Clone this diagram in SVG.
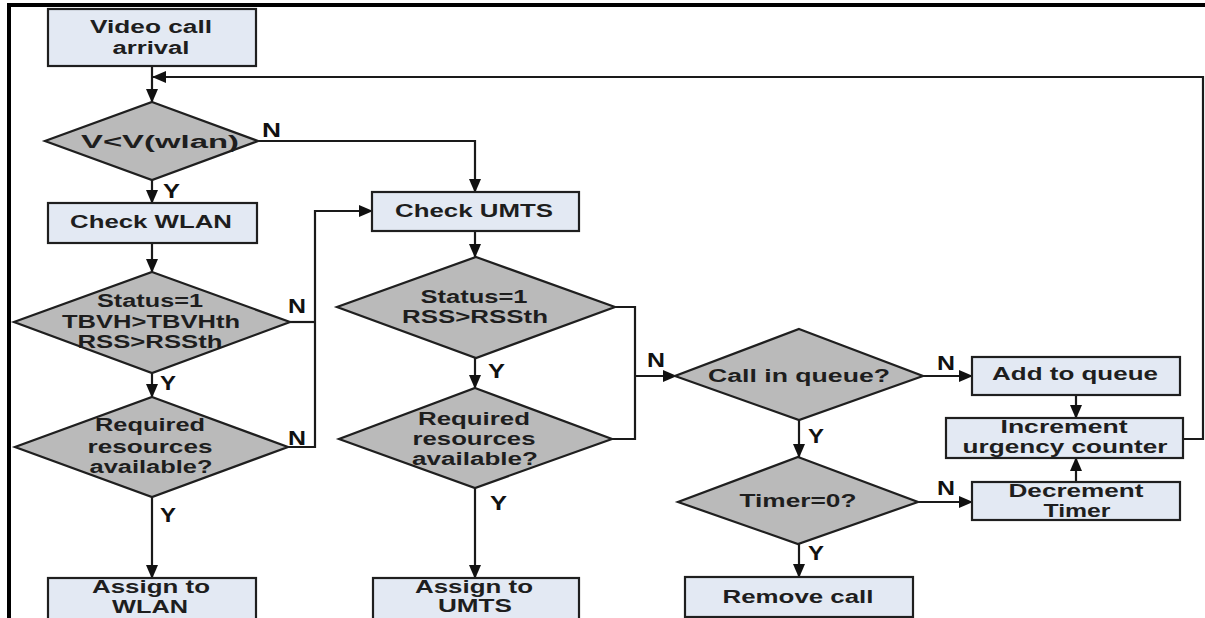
<svg xmlns="http://www.w3.org/2000/svg" width="1205" height="618" viewBox="0 0 1205 618">
<style>
.box{fill:#e3e9f3;stroke:#1f1f1f;stroke-width:2.2}
.dia{fill:#bababa;stroke:#1f1f1f;stroke-width:2.2}
.t{font-family:"Liberation Sans",Arial,sans-serif;font-weight:bold;font-size:18px;fill:#1e1e1e;text-anchor:middle}
.lb{font-family:"Liberation Sans",Arial,sans-serif;font-weight:bold;font-size:20px;fill:#111}
.c{fill:none;stroke:#1a1a1a;stroke-width:2.2}
.ca{fill:none;stroke:#1a1a1a;stroke-width:2.2;marker-end:url(#ah)}
</style>
<defs>
<marker id="ah" markerUnits="userSpaceOnUse" markerWidth="14" markerHeight="12" refX="13" refY="6" orient="auto">
<path d="M0,0 L14,6 L0,12 z" fill="#111"/>
</marker>
</defs>
<rect width="1205" height="618" fill="#fff"/>
<!-- frame -->
<path d="M9,620 L9,5 L1205,5" fill="none" stroke="#000" stroke-width="4"/>

<g id="connectors">
<path class="ca" d="M152,66 L152,102"/>
<path class="ca" d="M1183,439 L1203,439 L1203,77 L153,77"/>
<path class="ca" d="M152,180 L152,203"/>
<path class="ca" d="M258,141 L475,141 L475,192"/>
<path class="ca" d="M152,243 L152,272"/>
<path class="ca" d="M152,373 L152,397"/>
<path class="ca" d="M152,497 L152,578"/>
<path class="c" d="M290,322 L315,322"/>
<path class="ca" d="M288,447 L315,447 L315,211 L372,211"/>
<path class="ca" d="M475,231 L475,257"/>
<path class="ca" d="M475,358 L475,388"/>
<path class="ca" d="M475,488 L475,578"/>
<path class="c" d="M615,307 L635,307 L635,439 L612,439"/>
<path class="ca" d="M635,376 L676,376"/>
<path class="ca" d="M923,376 L972,376"/>
<path class="ca" d="M1076,395 L1076,418"/>
<path class="ca" d="M799,420 L799,457"/>
<path class="ca" d="M918,502 L972,502"/>
<path class="ca" d="M1076,482 L1076,458"/>
<path class="ca" d="M799,544 L799,577"/>
</g>

<g id="labels">
<text class="lb" x="262" y="137" textLength="19" lengthAdjust="spacingAndGlyphs">N</text>
<text class="lb" x="163" y="198" textLength="17" lengthAdjust="spacingAndGlyphs">Y</text>
<text class="lb" x="288" y="313" textLength="18" lengthAdjust="spacingAndGlyphs">N</text>
<text class="lb" x="160" y="390" textLength="16" lengthAdjust="spacingAndGlyphs">Y</text>
<text class="lb" x="288" y="445" textLength="18" lengthAdjust="spacingAndGlyphs">N</text>
<text class="lb" x="160" y="522" textLength="16" lengthAdjust="spacingAndGlyphs">Y</text>
<text class="lb" x="488" y="378" textLength="17" lengthAdjust="spacingAndGlyphs">Y</text>
<text class="lb" x="490" y="510" textLength="17" lengthAdjust="spacingAndGlyphs">Y</text>
<text class="lb" x="647" y="367" textLength="18" lengthAdjust="spacingAndGlyphs">N</text>
<text class="lb" x="808" y="443" textLength="16" lengthAdjust="spacingAndGlyphs">Y</text>
<text class="lb" x="808" y="560" textLength="16" lengthAdjust="spacingAndGlyphs">Y</text>
<text class="lb" x="937" y="370" textLength="18" lengthAdjust="spacingAndGlyphs">N</text>
<text class="lb" x="937" y="495" textLength="18" lengthAdjust="spacingAndGlyphs">N</text>
</g>

<g id="video-call-arrival">
<rect class="box" x="48" y="9" width="208" height="57"/>
<text class="t" x="151" y="33" textLength="122" lengthAdjust="spacingAndGlyphs">Video call</text>
<text class="t" x="151" y="54" textLength="77" lengthAdjust="spacingAndGlyphs">arrival</text>
</g>

<g id="v-wlan">
<polygon class="dia" points="152,102 258,141 152,180 45,141"/>
<text class="t" x="160" y="148" textLength="158" lengthAdjust="spacingAndGlyphs">V&lt;V(wlan)</text>
</g>

<g id="check-wlan">
<rect class="box" x="48" y="203" width="209" height="40"/>
<text class="t" x="151" y="228" textLength="162" lengthAdjust="spacingAndGlyphs">Check WLAN</text>
</g>

<g id="wlan-status">
<polygon class="dia" points="152,272 290,322 152,373 14,322"/>
<text class="t" x="150" y="307" textLength="106" lengthAdjust="spacingAndGlyphs">Status=1</text>
<text class="t" x="151" y="328" textLength="178" lengthAdjust="spacingAndGlyphs">TBVH&gt;TBVHth</text>
<text class="t" x="150" y="348" textLength="145" lengthAdjust="spacingAndGlyphs">RSS&gt;RSSth</text>
</g>

<g id="wlan-resources">
<polygon class="dia" points="152,397 288,447 152,497 15,447"/>
<text class="t" x="150" y="431" textLength="110" lengthAdjust="spacingAndGlyphs">Required</text>
<text class="t" x="150" y="453" textLength="125" lengthAdjust="spacingAndGlyphs">resources</text>
<text class="t" x="151" y="473" textLength="123" lengthAdjust="spacingAndGlyphs">available?</text>
</g>

<g id="assign-wlan">
<rect class="box" x="48" y="578" width="208" height="50"/>
<text class="t" x="151" y="593" textLength="118" lengthAdjust="spacingAndGlyphs">Assign to</text>
<text class="t" x="150" y="613" textLength="76" lengthAdjust="spacingAndGlyphs">WLAN</text>
</g>

<g id="check-umts">
<rect class="box" x="372" y="192" width="207" height="39"/>
<text class="t" x="474" y="217" textLength="158" lengthAdjust="spacingAndGlyphs">Check UMTS</text>
</g>

<g id="umts-status">
<polygon class="dia" points="476,257 615,307 476,358 337,307"/>
<text class="t" x="474" y="303" textLength="107" lengthAdjust="spacingAndGlyphs">Status=1</text>
<text class="t" x="475" y="323" textLength="146" lengthAdjust="spacingAndGlyphs">RSS&gt;RSSth</text>
</g>

<g id="umts-resources">
<polygon class="dia" points="475,388 612,439 475,488 339,439"/>
<text class="t" x="474" y="425" textLength="112" lengthAdjust="spacingAndGlyphs">Required</text>
<text class="t" x="474" y="445" textLength="123" lengthAdjust="spacingAndGlyphs">resources</text>
<text class="t" x="475" y="465" textLength="126" lengthAdjust="spacingAndGlyphs">available?</text>
</g>

<g id="assign-umts">
<rect class="box" x="373" y="578" width="206" height="50"/>
<text class="t" x="474" y="593" textLength="118" lengthAdjust="spacingAndGlyphs">Assign to</text>
<text class="t" x="475" y="612" textLength="74" lengthAdjust="spacingAndGlyphs">UMTS</text>
</g>

<g id="call-in-queue">
<polygon class="dia" points="799,329 923,376 799,420 675,376"/>
<text class="t" x="799" y="382" textLength="182" lengthAdjust="spacingAndGlyphs">Call in queue?</text>
</g>

<g id="timer-zero">
<polygon class="dia" points="798,457 918,502 798,544 678,502"/>
<text class="t" x="798" y="507" textLength="117" lengthAdjust="spacingAndGlyphs">Timer=0?</text>
</g>

<g id="remove-call">
<rect class="box" x="685" y="577" width="228" height="40"/>
<text class="t" x="798" y="603" textLength="151" lengthAdjust="spacingAndGlyphs">Remove call</text>
</g>

<g id="add-to-queue">
<rect class="box" x="972" y="357" width="208" height="38"/>
<text class="t" x="1075" y="380" textLength="166" lengthAdjust="spacingAndGlyphs">Add to queue</text>
</g>

<g id="increment-urgency">
<rect class="box" x="946" y="418" width="237" height="40"/>
<text class="t" x="1064" y="433" textLength="127" lengthAdjust="spacingAndGlyphs">Increment</text>
<text class="t" x="1065" y="453" textLength="205" lengthAdjust="spacingAndGlyphs">urgency counter</text>
</g>

<g id="decrement-timer">
<rect class="box" x="972" y="482" width="208" height="38"/>
<text class="t" x="1076" y="497" textLength="135" lengthAdjust="spacingAndGlyphs">Decrement</text>
<text class="t" x="1077" y="517" textLength="67" lengthAdjust="spacingAndGlyphs">Timer</text>
</g>
</svg>
